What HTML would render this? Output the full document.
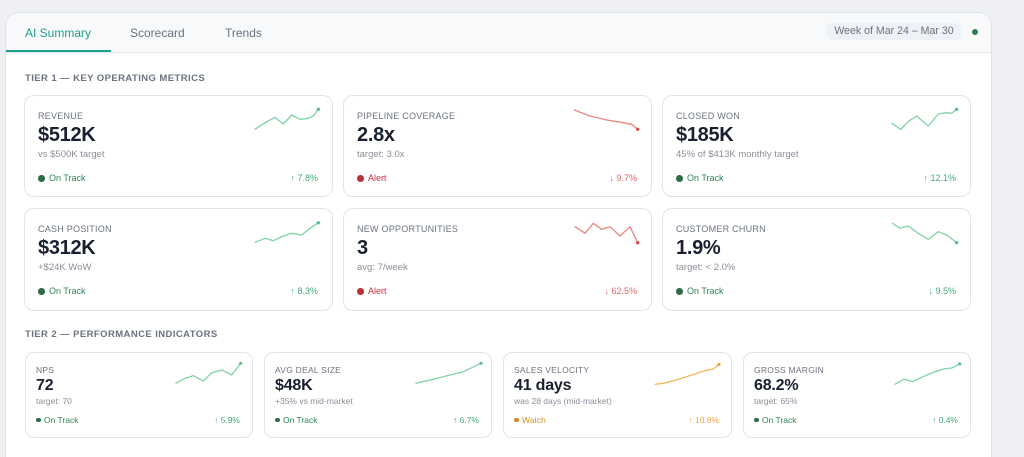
<!DOCTYPE html>
<html><head><meta charset="utf-8">
<style>
*{box-sizing:border-box;margin:0;padding:0}
html,body{width:1024px;height:457px;overflow:hidden;background:#eef0f4;font-family:"Liberation Sans",Arial,sans-serif}
.panel{position:absolute;left:5px;top:12px;width:987px;height:445px;background:#fff;border:1px solid #dfe2e7;border-bottom:none;border-radius:14px 14px 0 0;overflow:hidden}
.hdr{position:absolute;left:0;top:0;width:100%;height:40px;background:#f8f9fb;border-bottom:1px solid #e3e6ea}
.tab{position:absolute;top:0;height:40px;line-height:40px;font-size:12px;color:#6b7280}
.tab.active{color:#1f9e8c}
.uline{position:absolute;left:0;top:37px;width:105px;height:2px;background:#1fa08c}
.badge{position:absolute;left:821px;top:10px;width:134px;height:17px;background:#eef1f6;border-radius:6px;font-size:10.6px;color:#6b7280;line-height:17px;text-align:center}
.gdot{position:absolute;left:966px;top:16px;width:6px;height:6px;border-radius:50%;background:#2e7d4f}
.sec{position:absolute;left:25px;font-size:9.5px;font-weight:bold;letter-spacing:0.42px;color:#6b7280;line-height:1}
.card{position:absolute;background:#fff;border:1px solid #e1e4e8;border-radius:10px}
.card div{position:absolute;line-height:1;white-space:nowrap}
.t1 .lb{left:13px;top:16px;font-size:9px;letter-spacing:0.25px;color:#6b7280}
.t1 .val{left:13px;top:29px;font-size:20px;font-weight:bold;color:#1a2030;letter-spacing:-0.3px}
.t1 .sub{left:13px;top:54px;font-size:9.5px;color:#8a8f99}
.t1 .dot{left:13px;top:79px;width:6.5px;height:6.5px;border-radius:50%}
.t1 .st{left:24px;top:78px;font-size:9px}
.t1 .pc{right:14px;top:78px;font-size:9px}
.t2{border-radius:9px}
.t2 .lb{left:10px;top:12.5px;font-size:8.5px;letter-spacing:0.25px;color:#6b7280}
.t2 .val{left:10px;top:25px;font-size:16px;font-weight:bold;color:#1a2030;letter-spacing:-0.2px}
.t2 .sub{left:10px;top:44px;font-size:8.5px;color:#8a8f99}
.t2 .dot{left:10px;top:64.5px;width:4.5px;height:4.5px;border-radius:50%}
.t2 .st{left:18px;top:62.8px;font-size:8.5px}
.t2 .pc{right:12px;top:62.8px;font-size:8.5px}
.g .dot{background:#2e6e47}.g .st{color:#2f8558}.g .pc{color:#45a979}
.r .dot{background:#b8323a}.r .st{color:#c8303c}.r .pc{color:#e0676a}
.o .dot{background:#d48a25}.o .st{color:#d9902a}.o .pc{color:#eea64a}
svg{position:absolute;left:0;top:0}
</style></head><body>
<div class="panel">
  <div class="hdr">
    <div class="tab active" style="left:19px">AI Summary</div>
    <div class="tab" style="left:124px">Scorecard</div>
    <div class="tab" style="left:219px">Trends</div>
    <div class="uline"></div>
    <div class="badge">Week of Mar 24 – Mar 30</div>
    <div class="gdot"></div>
  </div>
</div>

<div class="sec" style="top:73.5px">TIER 1 — KEY OPERATING METRICS</div>

<div class="card t1 g" style="left:24px;top:95px;width:309px;height:102px">
  <div class="lb">REVENUE</div><div class="val">$512K</div><div class="sub">vs $500K target</div>
  <div class="dot"></div><div class="st">On Track</div><div class="pc">↑ 7.8%</div>
</div>
<div class="card t1 r" style="left:343px;top:95px;width:309px;height:102px">
  <div class="lb">PIPELINE COVERAGE</div><div class="val">2.8x</div><div class="sub">target: 3.0x</div>
  <div class="dot"></div><div class="st">Alert</div><div class="pc">↓ 9.7%</div>
</div>
<div class="card t1 g" style="left:662px;top:95px;width:309px;height:102px">
  <div class="lb">CLOSED WON</div><div class="val">$185K</div><div class="sub">45% of $413K monthly target</div>
  <div class="dot"></div><div class="st">On Track</div><div class="pc">↑ 12.1%</div>
</div>
<div class="card t1 g" style="left:24px;top:208px;width:309px;height:103px">
  <div class="lb">CASH POSITION</div><div class="val">$312K</div><div class="sub">+$24K WoW</div>
  <div class="dot"></div><div class="st">On Track</div><div class="pc">↑ 8.3%</div>
</div>
<div class="card t1 r" style="left:343px;top:208px;width:309px;height:103px">
  <div class="lb">NEW OPPORTUNITIES</div><div class="val">3</div><div class="sub">avg: 7/week</div>
  <div class="dot"></div><div class="st">Alert</div><div class="pc">↓ 62.5%</div>
</div>
<div class="card t1 g" style="left:662px;top:208px;width:309px;height:103px">
  <div class="lb">CUSTOMER CHURN</div><div class="val">1.9%</div><div class="sub">target: &lt; 2.0%</div>
  <div class="dot"></div><div class="st">On Track</div><div class="pc">↓ 9.5%</div>
</div>

<div class="sec" style="top:329.5px">TIER 2 — PERFORMANCE INDICATORS</div>

<div class="card t2 g" style="left:25px;top:352px;width:228px;height:86px">
  <div class="lb">NPS</div><div class="val">72</div><div class="sub">target: 70</div>
  <div class="dot"></div><div class="st">On Track</div><div class="pc">↑ 5.9%</div>
</div>
<div class="card t2 g" style="left:264px;top:352px;width:228px;height:86px">
  <div class="lb">AVG DEAL SIZE</div><div class="val">$48K</div><div class="sub">+35% vs mid-market</div>
  <div class="dot"></div><div class="st">On Track</div><div class="pc">↑ 6.7%</div>
</div>
<div class="card t2 o" style="left:503px;top:352px;width:229px;height:86px">
  <div class="lb">SALES VELOCITY</div><div class="val">41 days</div><div class="sub">was 28 days (mid-market)</div>
  <div class="dot"></div><div class="st">Watch</div><div class="pc">↑ 10.8%</div>
</div>
<div class="card t2 g" style="left:743px;top:352px;width:228px;height:86px">
  <div class="lb">GROSS MARGIN</div><div class="val">68.2%</div><div class="sub">target: 65%</div>
  <div class="dot"></div><div class="st">On Track</div><div class="pc">↑ 0.4%</div>
</div>

<svg width="1024" height="457" viewBox="0 0 1024 457" fill="none" stroke-width="1.3" stroke-linejoin="round" stroke-linecap="round">
  <g stroke="#7fd3a5">
    <polyline points="255,129.3 266.7,121.7 275,117.3 283.3,124 291.7,115 300,119.3 308.3,118.3 313.3,116 318.3,109.3"/>
    <polyline points="891.7,123.3 900.7,129.3 909.3,120.7 916.7,116 928.3,126 938.3,114 946.7,112.7 951.7,113.3 956.7,109.3"/>
    <polyline points="255,242.3 265,238.3 273.3,240.7 283.3,236 291.7,233.3 301.7,235 310,228.3 318.3,222.7"/>
    <polyline points="892.7,223.3 900,228.3 908.3,226 918.3,233.3 928.3,239.3 938.3,231.7 946.7,235 956.7,242.7"/>
    <polyline points="176,383.3 185,378.3 193.3,375.7 203.3,381 211.7,372.7 221.7,370 231.7,375 240.7,363.3"/>
    <polyline points="416,383.3 433.3,379.3 450,375 463.3,371.7 481,363.3"/>
    <polyline points="894.9,384.3 904.1,379.2 912.6,381.6 922.9,376.8 933.1,372.4 943.3,369 951.8,368 959.7,363.9"/>
  </g>
  <g fill="#5cbf8a">
    <circle cx="318.3" cy="109.3" r="1.7"/><circle cx="956.7" cy="109.3" r="1.7"/>
    <circle cx="318.3" cy="222.7" r="1.7"/><circle cx="956.7" cy="242.7" r="1.7"/>
    <circle cx="240.7" cy="363.3" r="1.6"/><circle cx="481" cy="363.3" r="1.6"/>
    <circle cx="959.7" cy="363.9" r="1.6"/>
  </g>
  <g stroke="#e8877f">
    <polyline points="574.3,110 590,116 606.7,120 623.3,122.7 631.7,124.3 637.7,129.3"/>
    <polyline points="575,226.7 585,233.3 593.3,223.3 601.7,229.3 610,226.7 620,236 630,226.7 637.7,242.7"/>
  </g>
  <g fill="#d9534f">
    <circle cx="637.7" cy="129.3" r="1.7"/><circle cx="637.7" cy="242.7" r="1.7"/>
  </g>
  <polyline stroke="#f2b75a" points="655.3,384.3 667.2,382.6 680.9,378.5 694.5,374.1 704.7,370.7 713.2,369 719,364.5"/>
  <circle fill="#e9a23b" cx="719" cy="364.5" r="1.6"/>
</svg>
</body></html>
